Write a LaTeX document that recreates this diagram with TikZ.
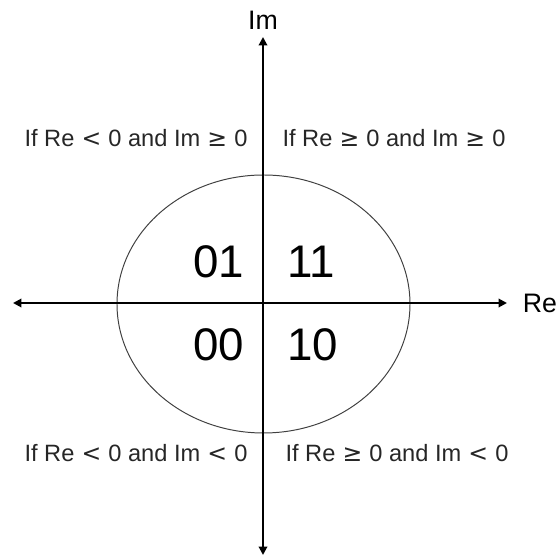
\documentclass[tikz,border=0pt]{standalone}
\usepackage{fontspec}
\setmainfont{Liberation Sans}
\newfontfamily\relfont{DejaVu Sans}
\usetikzlibrary{arrows.meta,positioning}
\tikzset{
	axis/.style = {line width = 1.4pt, {Triangle[length=6pt,width=6pt]}-{Triangle[length=6pt,width=6pt]}},
	region/.style = {font = \fontsize{16.8pt}{16.8pt}\selectfont, text = black!85, inner sep = 0pt},
	bits/.style = {font = \fontsize{32.5pt}{32.5pt}\selectfont, anchor = west, inner sep = 0pt},
	axislabel/.style = {font = \fontsize{19pt}{19pt}\selectfont, inner sep = 0pt}
}
\newcommand{\rel}[1]{\hspace{.3em}{\relfont #1}\hspace{.3em}}
\begin{document}
\begin{tikzpicture} [x = 0.025cm, y = 0.025cm]
	\useasboundingbox (-263,-253) rectangle (295,303);
	\coordinate (o) at (0,0);
	\coordinate (top) at (0,266);
	\coordinate (bot) at (0,-252);
	\coordinate (west) at (-250,0);
	\coordinate (east) at (244,0);
	\draw [line width = 0.7pt, black!75] (0.5,-1) ellipse [x radius = 146.5, y radius = 129];
	\draw [axis] (bot) -- (top);
	\draw [axis] (west) -- (east);
	\node [axislabel, above = 5pt of top] (im) {Im};
	\node [axislabel, right = 11pt of east] (re) {Re};
	\node [region] (q2) at (-127,165) {If Re\rel{<}0 and Im\rel{≥}0};
	\node [region] (q1) at (131,165) {If Re\rel{≥}0 and Im\rel{≥}0};
	\node [region] (q3) at (-127,-150) {If Re\rel{<}0 and Im\rel{<}0};
	\node [region] (q4) at (134,-150) {If Re\rel{≥}0 and Im\rel{<}0};
	\node [bits] (b01) at (-70,41) {01};
	\node [bits] (b11) at (24,41) {11};
	\node [bits] (b00) at (-70,-42) {00};
	\node [bits] (b10) at (24,-42) {10};
\end{tikzpicture}
\end{document}
